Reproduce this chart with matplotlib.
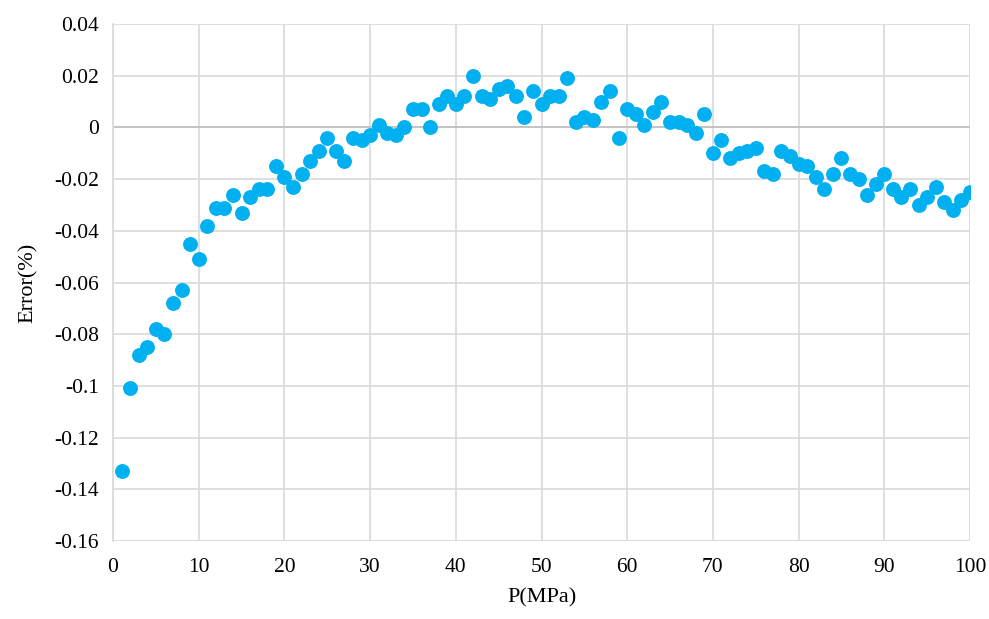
import matplotlib.pyplot as plt
import numpy as np

# Pressure points (MPa) and relative error (%)
pressure = list(range(1, 101))
error = [
    -0.133, -0.101, -0.088, -0.085, -0.078, -0.080, -0.068, -0.063, -0.045, -0.051,
    -0.038, -0.031, -0.031, -0.026, -0.033, -0.027, -0.024, -0.024, -0.015, -0.019,
    -0.023, -0.018, -0.013, -0.009, -0.004, -0.009, -0.013, -0.004, -0.005, -0.003,
    0.001, -0.002, -0.003, 0.000, 0.007, 0.007, 0.000, 0.009, 0.012, 0.009,
    0.012, 0.020, 0.012, 0.011, 0.015, 0.016, 0.012, 0.004, 0.014, 0.009,
    0.012, 0.012, 0.019, 0.002, 0.004, 0.003, 0.010, 0.014, -0.004, 0.007,
    0.005, 0.001, 0.006, 0.010, 0.002, 0.002, 0.001, -0.002, 0.005, -0.010,
    -0.005, -0.012, -0.010, -0.009, -0.008, -0.017, -0.018, -0.009, -0.011, -0.014,
    -0.015, -0.019, -0.024, -0.018, -0.012, -0.018, -0.020, -0.026, -0.022, -0.018,
    -0.024, -0.027, -0.024, -0.030, -0.027, -0.023, -0.029, -0.032, -0.028, -0.025,
]
x_ticks = np.arange(0, 101, 10)
y_ticks = np.round(np.arange(-0.16, 0.041, 0.02), 2)
y_labels = ["-0.16", "-0.14", "-0.12", "-0.1", "-0.08", "-0.06", "-0.04", "-0.02", "0", "0.02", "0.04"]

plt.rcParams['font.family'] = ['Liberation Serif', 'DejaVu Serif']

fig = plt.figure(figsize=(9.89, 6.19), dpi=100)
ax = fig.add_axes([113 / 989, 1 - 541 / 619, (970 - 113) / 989, (541 - 24) / 619])

ax.scatter(pressure, error, s=115, color='#00B0F0', zorder=3, linewidths=0)

ax.set_xlim(0, 100)
ax.set_ylim(-0.16, 0.04)
ax.set_xticks(x_ticks)
ax.set_yticks(y_ticks)
ax.set_yticklabels(y_labels)
ax.tick_params(labelsize=15.5, length=0, colors='black')
ax.tick_params(axis='y', pad=10)
ax.tick_params(axis='x', pad=12)
ax.grid(True, color='#D9D9D9', linewidth=1.2, zorder=0)
ax.axhline(0, color='#BFBFBF', linewidth=1.2, zorder=1)
for s in ax.spines.values():
    s.set_visible(False)
ax.spines['left'].set_visible(True)
ax.spines['left'].set_color('#D9D9D9')
ax.spines['left'].set_linewidth(1.2)
ax.set_axisbelow(True)

ax.set_xlabel("P(MPa)", fontsize=16, labelpad=8)
ax.set_ylabel("Error(%)", fontsize=16, labelpad=12)

plt.savefig("out.png", dpi=100)
